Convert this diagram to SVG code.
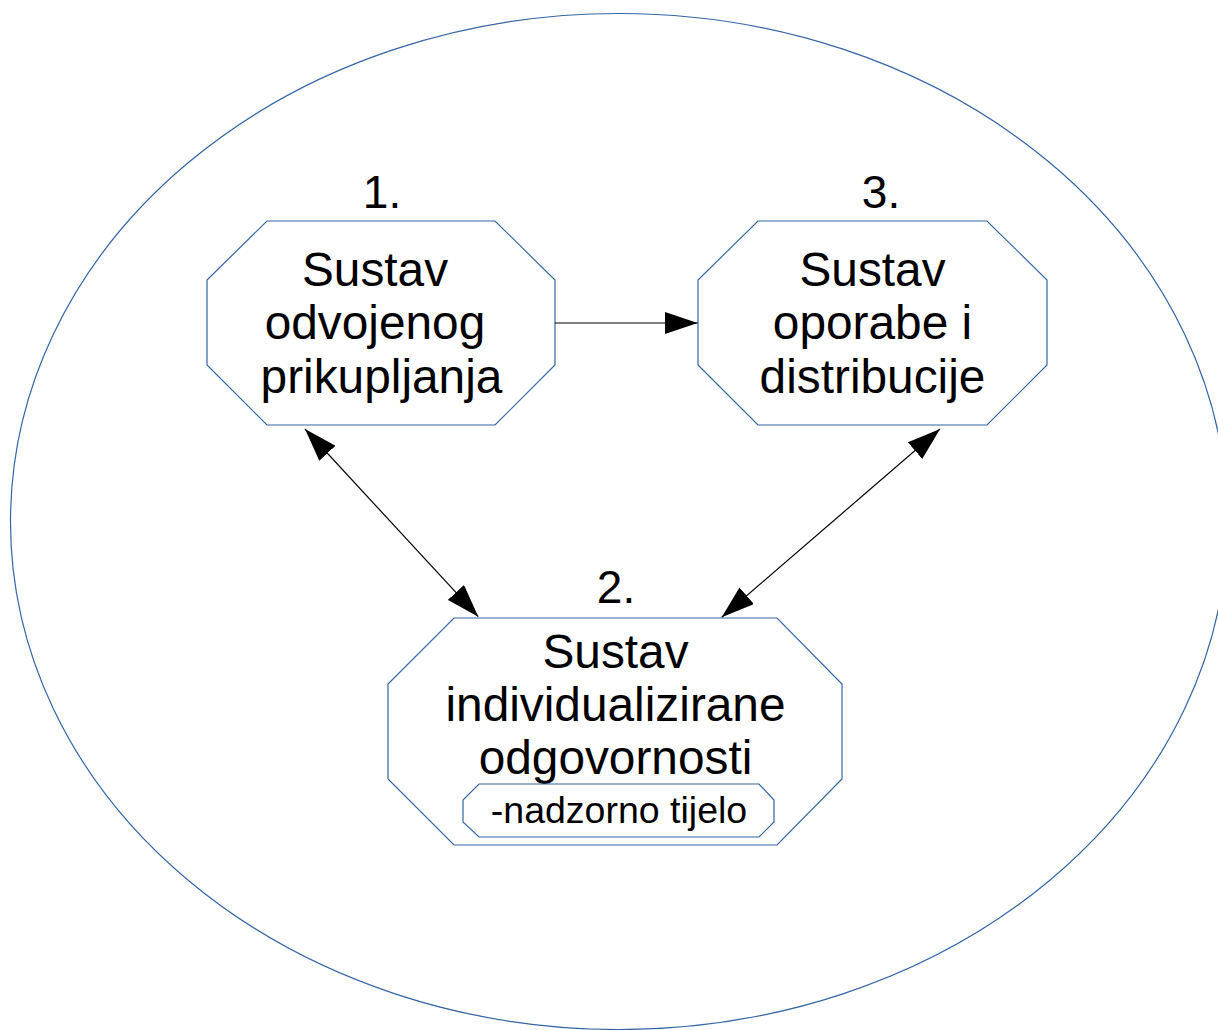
<svg xmlns="http://www.w3.org/2000/svg" width="1218" height="1030" viewBox="0 0 1218 1030">
<defs>
<style>
.shape{fill:#ffffff;stroke:#3465a4;stroke-width:1.2}
.outer{fill:none;stroke:#3465a4;stroke-width:1.2}
.lbl{font-family:"Liberation Sans",Arial,sans-serif;font-size:47.8px;fill:#000;text-anchor:middle}
.num{font-family:"Liberation Sans",Arial,sans-serif;font-size:46px;fill:#000;text-anchor:middle}
.small{font-family:"Liberation Sans",Arial,sans-serif;font-size:37.5px;fill:#000;text-anchor:middle}
.conn{stroke:#000;stroke-width:1.2;fill:none}
</style>
<marker id="ah" viewBox="0 0 33 22" refX="33" refY="11" markerWidth="33" markerHeight="22" markerUnits="userSpaceOnUse" orient="auto-start-reverse">
<path d="M0,0 L33,11 L0,22 Z" fill="#000"/>
</marker>
</defs>
<rect width="1218" height="1030" fill="#fff"/>
<ellipse class="outer" cx="619" cy="521.5" rx="608.5" ry="508"/>
<g id="node1">
<polygon class="shape" points="267,221 495,221 555,280 555,365 495,425 267,425 207,365 207,280"/>
<text class="num" x="382" y="208">1.</text>
<text class="lbl" x="375" y="286">Sustav</text>
<text class="lbl" x="375" y="339">odvojenog</text>
<text class="lbl" x="381.5" y="393">prikupljanja</text>
</g>
<g id="node3">
<polygon class="shape" points="758,221 987,221 1047,280 1047,365 987,425 758,425 698,365 698,280"/>
<text class="num" x="881" y="208">3.</text>
<text class="lbl" x="872.5" y="286">Sustav</text>
<text class="lbl" x="872.5" y="339">oporabe i</text>
<text class="lbl" x="872.5" y="393">distribucije</text>
</g>
<g id="node2">
<polygon class="shape" points="454,618 777,618 842,684 842,779 777,845 454,845 388,779 388,684"/>
<text class="num" x="616" y="603">2.</text>
<text class="lbl" x="615.5" y="668">Sustav</text>
<text class="lbl" x="615.5" y="721">individualizirane</text>
<text class="lbl" x="615.5" y="774">odgovornosti</text>
</g>
<g id="node2sub">
<polygon class="shape" points="479,784 759,784 774,800 774,822 759,837 479,837 463,822 463,800"/>
<text class="small" x="619" y="823">-nadzorno tijelo</text>
</g>
<g id="connectors">
<line class="conn" x1="555" y1="323" x2="697.7" y2="323" marker-end="url(#ah)"/>
<line class="conn" x1="305" y1="429" x2="478.3" y2="616.7" marker-start="url(#ah)" marker-end="url(#ah)"/>
<line class="conn" x1="940" y1="429" x2="721.7" y2="617.3" marker-start="url(#ah)" marker-end="url(#ah)"/>
</g>
</svg>
